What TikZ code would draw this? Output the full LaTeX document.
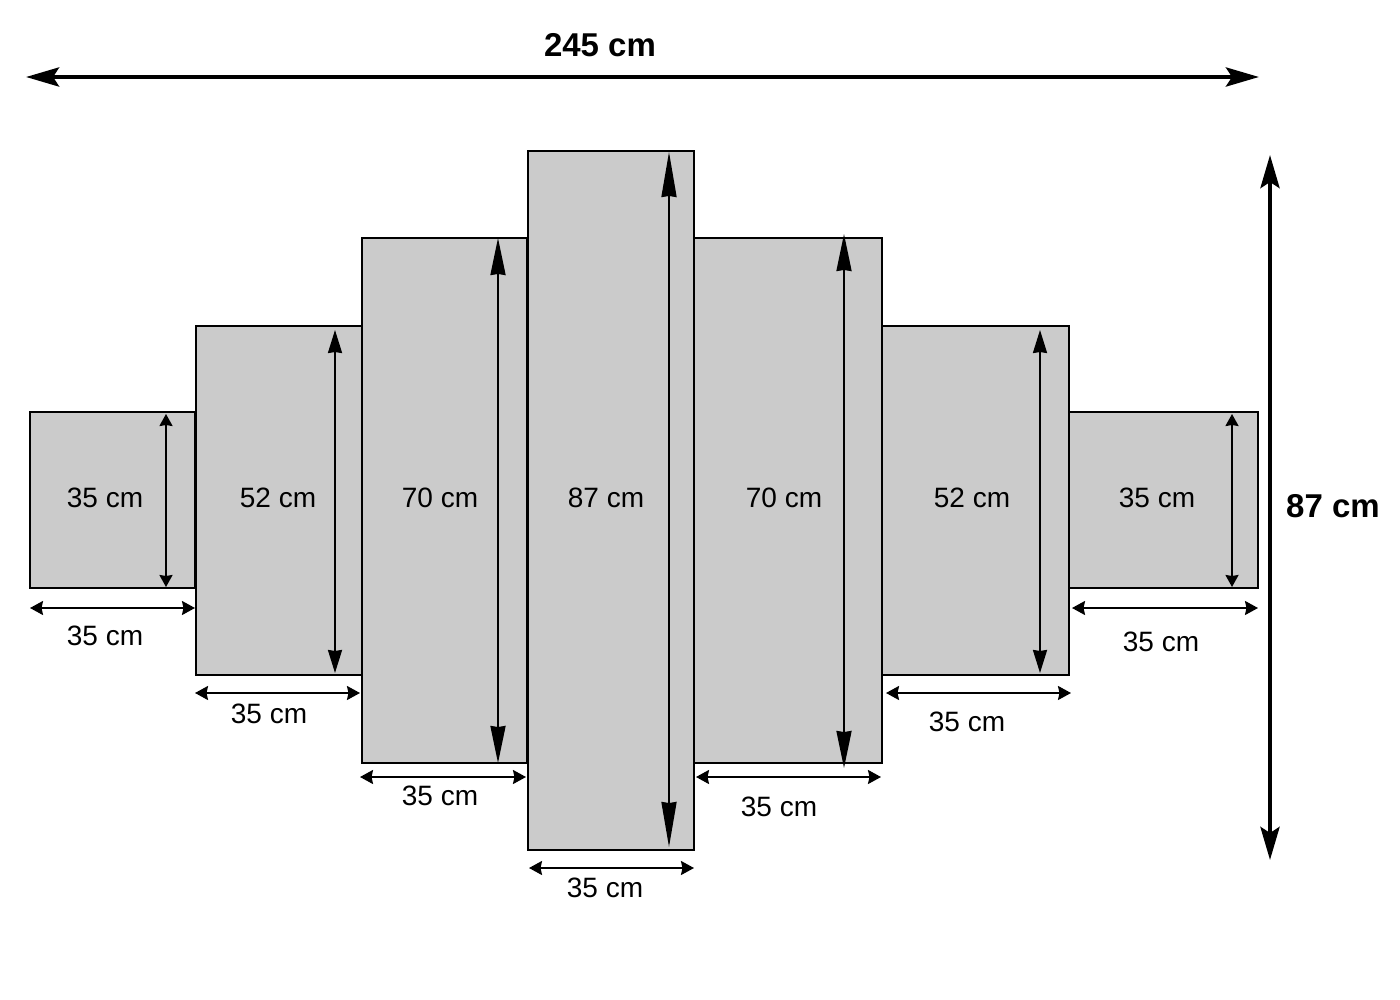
\documentclass[tikz,border=0pt]{standalone}
\usepackage{fontspec}
\setmainfont{Liberation Sans}
\usetikzlibrary{arrows.meta}
\definecolor{panelgray}{RGB}{203,203,203}
\begin{document}
\begin{tikzpicture}[x=1pt,y=-1pt,
  panel/.style={draw=black,line width=1.8pt,fill=panelgray},
  lbl/.style={inner sep=0pt,font=\fontsize{28}{28}\selectfont},
  biglbl/.style={inner sep=0pt,font=\fontsize{33}{33}\selectfont\bfseries},
  dimh/.style={line width=2pt,{Stealth[length=13pt,width=14pt,inset=1.5pt]}-{Stealth[length=13pt,width=14pt,inset=1.5pt]}},
  bigdim/.style={line width=4.5pt,{Stealth[length=33pt,width=19pt,inset=6pt]}-{Stealth[length=33pt,width=19pt,inset=6pt]}}
]
\useasboundingbox (0,0) rectangle (1400,1000);
% panels
\draw[panel] (30,412) rectangle (195,588);
\draw[panel] (196,326) rectangle (362,675);
\draw[panel] (362,238) rectangle (527,763);
\draw[panel] (528,151) rectangle (694,850);
\draw[panel] (694,238) rectangle (882,763);
\draw[panel] (882,326) rectangle (1069,675);
\draw[panel] (1069,412) rectangle (1258,588);
% vertical arrow coordinates
\coordinate (v1a) at (166,414); \coordinate (v1b) at (166,587);
\coordinate (v2a) at (335,330); \coordinate (v2b) at (335,673);
\coordinate (v3a) at (498,238); \coordinate (v3b) at (498,763);
\coordinate (v4a) at (669,152); \coordinate (v4b) at (669,847);
\coordinate (v5a) at (844,234); \coordinate (v5b) at (844,768);
\coordinate (v6a) at (1040,330); \coordinate (v6b) at (1040,673);
\coordinate (v7a) at (1232,414); \coordinate (v7b) at (1232,587);
\draw[line width=2pt,{Stealth[length=12pt,width=13pt,inset=1pt]}-{Stealth[length=12pt,width=13pt,inset=1pt]}] (v1a) -- (v1b);
\draw[line width=2pt,{Stealth[length=23pt,width=14pt,inset=1pt]}-{Stealth[length=23pt,width=14pt,inset=1pt]}] (v2a) -- (v2b);
\draw[line width=2pt,{Stealth[length=37pt,width=15pt,inset=1pt]}-{Stealth[length=37pt,width=15pt,inset=1pt]}] (v3a) -- (v3b);
\draw[line width=2pt,{Stealth[length=45pt,width=15pt,inset=1pt]}-{Stealth[length=45pt,width=15pt,inset=1pt]}] (v4a) -- (v4b);
\draw[line width=2pt,{Stealth[length=37pt,width=15pt,inset=1pt]}-{Stealth[length=37pt,width=15pt,inset=1pt]}] (v5a) -- (v5b);
\draw[line width=2pt,{Stealth[length=23pt,width=14pt,inset=1pt]}-{Stealth[length=23pt,width=14pt,inset=1pt]}] (v6a) -- (v6b);
\draw[line width=2pt,{Stealth[length=12pt,width=13pt,inset=1pt]}-{Stealth[length=12pt,width=13pt,inset=1pt]}] (v7a) -- (v7b);
% horizontal arrow coordinates
\coordinate (h1a) at (30,608); \coordinate (h1b) at (195,608);
\coordinate (h2a) at (195,693); \coordinate (h2b) at (360,693);
\coordinate (h3a) at (360,777); \coordinate (h3b) at (526,777);
\coordinate (h4a) at (529,868); \coordinate (h4b) at (694,868);
\coordinate (h5a) at (696,777); \coordinate (h5b) at (881,777);
\coordinate (h6a) at (886,693); \coordinate (h6b) at (1071,693);
\coordinate (h7a) at (1072,608); \coordinate (h7b) at (1258,608);
\foreach \i in {1,...,7} \draw[dimh] (h\i a) -- (h\i b);
% labels inside panels
\node[lbl] (t1) at (105,498) {35 cm};
\node[lbl] (t2) at (278,498) {52 cm};
\node[lbl] (t3) at (440,498) {70 cm};
\node[lbl] (t4) at (606,498) {87 cm};
\node[lbl] (t5) at (784,498) {70 cm};
\node[lbl] (t6) at (972,498) {52 cm};
\node[lbl] (t7) at (1157,498) {35 cm};
% labels below
\node[lbl] (b1) at (105,636) {35 cm};
\node[lbl] (b2) at (269,714) {35 cm};
\node[lbl] (b3) at (440,796) {35 cm};
\node[lbl] (b4) at (605,888) {35 cm};
\node[lbl] (b5) at (779,807) {35 cm};
\node[lbl] (b6) at (967,722) {35 cm};
\node[lbl] (b7) at (1161,642) {35 cm};
% overall dimensions
\coordinate (wa) at (26,77); \coordinate (wb) at (1259,77);
\draw[bigdim] (wa) -- (wb);
\node[biglbl] (wl) at (600,45) {245 cm};
\coordinate (ha) at (1270,155); \coordinate (hb) at (1270,860);
\draw[bigdim] (ha) -- (hb);
\node[biglbl] (hl) at (1333,506) {87 cm};
\end{tikzpicture}
\end{document}
